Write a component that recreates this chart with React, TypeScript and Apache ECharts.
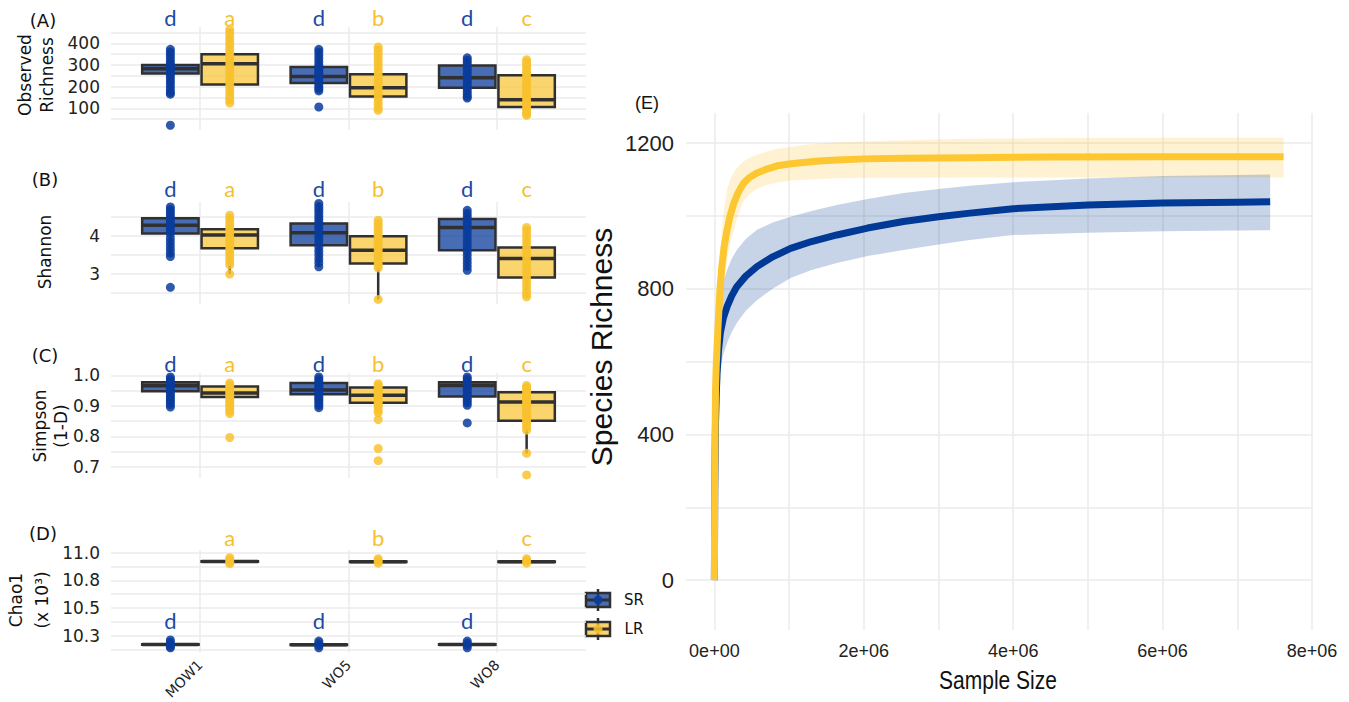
import React, { useEffect, useRef } from 'react';
import * as echarts from 'echarts';

// ---------------- DATA ----------------
const sites = ['MOW1', 'WO5', 'WO8'];

// Box stats per site: [lowerWhisker, q1, median, q3, upperWhisker]
const richnessBoxSR = [[165, 260, 282, 300, 372], [180, 217, 247, 290, 372], [147, 195, 241, 298, 333]];
const richnessBoxLR = [[124, 210, 306, 349, 464], [91, 155, 195, 257, 383], [68, 106, 140, 252, 324]];
const richnessPtsSR = [
  [372, 360, 348, 335, 322, 310, 300, 292, 285, 278, 270, 262, 250, 238, 225, 212, 198, 185, 172, 165, 22],
  [372, 360, 345, 330, 315, 300, 290, 280, 270, 262, 255, 245, 235, 225, 212, 200, 190, 180, 106],
  [333, 322, 310, 298, 286, 274, 262, 250, 238, 226, 214, 202, 190, 178, 166, 155, 147],
];
const richnessPtsLR = [
  [464, 450, 435, 420, 405, 390, 375, 360, 345, 330, 315, 300, 285, 270, 255, 240, 225, 210, 195, 180, 165, 150, 137, 124],
  [383, 370, 355, 340, 325, 310, 295, 280, 265, 250, 235, 220, 205, 190, 175, 160, 145, 130, 115, 100, 91],
  [324, 312, 300, 288, 276, 264, 252, 240, 228, 216, 204, 192, 180, 168, 156, 144, 132, 120, 108, 96, 84, 74, 68],
];

const shannonBoxSR = [[3.46, 4.07, 4.29, 4.47, 4.77], [3.19, 3.76, 4.09, 4.33, 4.86], [3.1, 3.63, 4.23, 4.45, 4.68]];
const shannonBoxLR = [[3.0, 3.68, 4.03, 4.18, 4.55], [2.33, 3.28, 3.63, 4.0, 4.42], [2.4, 2.91, 3.41, 3.7, 4.23]];
const shannonPtsSR = [
  [4.77, 4.7, 4.63, 4.56, 4.49, 4.42, 4.35, 4.28, 4.21, 4.14, 4.07, 3.95, 3.85, 3.75, 3.65, 3.55, 3.46, 2.65],
  [4.86, 4.78, 4.7, 4.62, 4.54, 4.46, 4.38, 4.3, 4.22, 4.14, 4.06, 3.98, 3.9, 3.8, 3.7, 3.6, 3.5, 3.4, 3.3, 3.19],
  [4.68, 4.6, 4.52, 4.44, 4.36, 4.28, 4.2, 4.1, 4.0, 3.9, 3.8, 3.7, 3.6, 3.5, 3.4, 3.3, 3.2, 3.1],
];
const shannonPtsLR = [
  [4.55, 4.47, 4.39, 4.31, 4.23, 4.15, 4.07, 3.99, 3.91, 3.83, 3.75, 3.67, 3.59, 3.5, 3.42, 3.33, 3.24, 3.0],
  [4.42, 4.34, 4.26, 4.18, 4.1, 4.02, 3.94, 3.86, 3.78, 3.7, 3.62, 3.54, 3.46, 3.38, 3.3, 3.23, 3.16, 2.33],
  [4.23, 4.15, 4.05, 3.95, 3.85, 3.75, 3.65, 3.55, 3.45, 3.35, 3.25, 3.15, 3.05, 2.95, 2.85, 2.75, 2.65, 2.55, 2.47, 2.4],
];

const simpsonBoxSR = [[0.896, 0.948, 0.966, 0.978, 0.995], [0.894, 0.938, 0.952, 0.975, 0.995], [0.902, 0.931, 0.967, 0.978, 0.995]];
const simpsonBoxLR = [[0.875, 0.929, 0.942, 0.964, 0.975], [0.886, 0.91, 0.935, 0.96, 0.973], [0.744, 0.851, 0.913, 0.945, 0.967]];
const simpsonPtsSR = [
  [0.995, 0.988, 0.981, 0.974, 0.967, 0.96, 0.953, 0.946, 0.939, 0.932, 0.925, 0.918, 0.911, 0.904, 0.896],
  [0.995, 0.988, 0.981, 0.974, 0.967, 0.96, 0.953, 0.946, 0.939, 0.932, 0.925, 0.918, 0.91, 0.902, 0.894],
  [0.995, 0.988, 0.981, 0.974, 0.967, 0.96, 0.953, 0.946, 0.939, 0.932, 0.925, 0.918, 0.91, 0.902, 0.844],
];
const simpsonPtsLR = [
  [0.975, 0.968, 0.961, 0.954, 0.947, 0.94, 0.933, 0.926, 0.919, 0.912, 0.905, 0.898, 0.89, 0.882, 0.875, 0.796],
  [0.973, 0.966, 0.959, 0.952, 0.945, 0.938, 0.931, 0.924, 0.917, 0.91, 0.903, 0.896, 0.886, 0.877, 0.855, 0.76, 0.72],
  [0.967, 0.96, 0.953, 0.946, 0.939, 0.932, 0.925, 0.918, 0.911, 0.904, 0.897, 0.89, 0.883, 0.876, 0.869, 0.862, 0.855, 0.848, 0.84, 0.83, 0.82, 0.744, 0.673],
];

const chaoBoxSR = [[10.165, 10.168, 10.17, 10.172, 10.175], [10.163, 10.166, 10.168, 10.17, 10.173], [10.164, 10.167, 10.169, 10.171, 10.174]];
const chaoBoxLR = [[10.915, 10.918, 10.92, 10.922, 10.925], [10.912, 10.915, 10.917, 10.919, 10.922], [10.913, 10.916, 10.918, 10.92, 10.923]];
const chaoPtsSR = [
  [10.21, 10.19, 10.17, 10.15, 10.14],
  [10.2, 10.18, 10.16, 10.14],
  [10.2, 10.18, 10.16, 10.14],
];
const chaoPtsLR = [
  [10.955, 10.935, 10.915, 10.9],
  [10.945, 10.925, 10.905],
  [10.945, 10.925, 10.905],
];

const lettersSR = ['d', 'd', 'd'];
const lettersLR = ['a', 'b', 'c'];

// Rarefaction curves (panel E)
const lrX = [0, 5000, 15000, 25000, 36000, 47000, 58000, 75000, 100000, 130000, 170000, 210000, 260000, 320000, 390000, 470000, 570000, 700000, 840000, 1000000, 1190000, 1400000, 1640000, 2000000, 2530000, 3420000, 4500000, 6000000, 7620000];
const lrY = [0, 300, 520, 590, 641, 690, 733, 800, 861, 915, 962, 1000, 1035, 1065, 1090, 1106, 1118, 1129, 1138, 1143, 1147, 1151, 1154, 1157, 1159, 1160, 1162, 1163, 1163];
const lrUpper = [0, 340, 580, 660, 720, 775, 820, 890, 960, 1020, 1072, 1100, 1120, 1137, 1150, 1160, 1168, 1177, 1185, 1189, 1195, 1199, 1202, 1205, 1208, 1212, 1214, 1215, 1215];
const lrLower = [0, 260, 460, 515, 560, 610, 650, 705, 760, 820, 880, 925, 960, 1005, 1040, 1060, 1075, 1085, 1092, 1097, 1100, 1102, 1104, 1105, 1105, 1106, 1106, 1106, 1106];

const srX = [0, 5000, 15000, 25000, 36000, 55000, 80000, 120000, 170000, 230000, 300000, 420000, 570000, 780000, 1020000, 1300000, 1640000, 2050000, 2530000, 3000000, 3420000, 4000000, 5000000, 6000000, 7000000, 7440000];
const srY = [0, 250, 430, 510, 568, 630, 679, 720, 751, 780, 806, 835, 861, 888, 911, 930, 948, 967, 985, 998, 1008, 1020, 1030, 1036, 1038, 1039];
const srUpper = [0, 300, 520, 610, 680, 735, 779, 820, 852, 882, 907, 937, 962, 982, 998, 1014, 1030, 1047, 1063, 1074, 1083, 1093, 1103, 1110, 1113, 1114];
const srLower = [0, 200, 340, 410, 460, 530, 580, 620, 651, 680, 706, 740, 769, 800, 830, 852, 871, 890, 907, 922, 934, 948, 954, 958, 960, 961];

// ---------------- STYLE ----------------
const DODGE = 0.2;
const BOX_HALF = 0.19;
const SR_COLOR = '#0B3C9C';
const LR_COLOR = '#F8C22F';
const SR_FILL = 'rgba(11,60,156,0.75)';
const LR_FILL = 'rgba(248,194,47,0.7)';
const SR_LETTER = '#1B4BA3';
const LR_LETTER = '#F6C031';
const BOX_STROKE = '#303030';
const GRID_COLOR = '#EBEBEB';
const LEFT_FONT = "'DejaVu Sans', sans-serif";
const E_FONT = "'Liberation Sans', Arial, sans-serif";
const TEXT_COLOR = '#222';

const panels = [
  {
    top: 27, height: 103, min: 0, max: 475,
    splits: [50, 100, 150, 200, 250, 300, 350, 400, 450], labels: [100, 200, 300, 400],
    fmt: (v: number) => String(v),
    boxSR: richnessBoxSR, boxLR: richnessBoxLR, ptsSR: richnessPtsSR, ptsLR: richnessPtsLR,
    letterYSR: 520, letterYLR: 520,
  },
  {
    top: 202, height: 102, min: 2.21, max: 4.9,
    splits: [2.5, 3, 3.5, 4, 4.5], labels: [3, 4],
    fmt: (v: number) => String(v),
    boxSR: shannonBoxSR, boxLR: shannonBoxLR, ptsSR: shannonPtsSR, ptsLR: shannonPtsLR,
    letterYSR: 5.26, letterYLR: 5.26,
  },
  {
    top: 373, height: 105, min: 0.663, max: 1.008,
    splits: [0.7, 0.75, 0.8, 0.85, 0.9, 0.95, 1.0], labels: [0.7, 0.8, 0.9, 1.0],
    fmt: (v: number) => v.toFixed(1),
    boxSR: simpsonBoxSR, boxLR: simpsonBoxLR, ptsSR: simpsonPtsSR, ptsLR: simpsonPtsLR,
    letterYSR: 1.038, letterYLR: 1.038,
  },
  {
    top: 550, height: 103, min: 10.097, max: 11.024,
    splits: [10.125, 10.25, 10.375, 10.5, 10.625, 10.75, 10.875, 11.0], labels: [10.25, 10.5, 10.75, 11.0],
    fmt: (v: number) => v.toFixed(1),
    boxSR: chaoBoxSR, boxLR: chaoBoxLR, ptsSR: chaoPtsSR, ptsLR: chaoPtsLR,
    letterYSR: 10.39, letterYLR: 11.14,
  },
];

function makeBoxRender(fill: string) {
  return (params: any, api: any) => {
    const x = api.value(0);
    const lo = api.value(1), q1 = api.value(2), med = api.value(3), q3 = api.value(4), hi = api.value(5);
    const tl = api.coord([x - BOX_HALF, q3]);
    const br = api.coord([x + BOX_HALF, q1]);
    const cHi = api.coord([x, hi]);
    const cLo = api.coord([x, lo]);
    const mL = api.coord([x - BOX_HALF, med]);
    const mR = api.coord([x + BOX_HALF, med]);
    const st = { stroke: BOX_STROKE, lineWidth: 2.5 };
    return {
      type: 'group',
      children: [
        { type: 'line', shape: { x1: cHi[0], y1: cHi[1], x2: cHi[0], y2: tl[1] }, style: st },
        { type: 'line', shape: { x1: cLo[0], y1: br[1], x2: cLo[0], y2: cLo[1] }, style: st },
        {
          type: 'rect',
          shape: { x: tl[0], y: tl[1], width: br[0] - tl[0], height: Math.max(br[1] - tl[1], 0.5) },
          style: { fill, stroke: BOX_STROKE, lineWidth: 2.5 },
        },
        { type: 'line', shape: { x1: mL[0], y1: mL[1], x2: mR[0], y2: mR[1] }, style: { stroke: BOX_STROKE, lineWidth: 3.5 } },
      ],
    };
  };
}

function makeLetterRender(letters: string[], color: string) {
  return (params: any, api: any) => {
    const c = api.coord([api.value(0), api.value(1)]);
    return {
      type: 'text',
      x: c[0],
      y: c[1],
      style: {
        text: letters[params.dataIndex],
        fill: color,
        font: "22px 'Lato', 'Open Sans', sans-serif",
        align: 'center',
        verticalAlign: 'middle',
      },
    };
  };
}

function makeRibbonRender(xs: number[], lower: number[], upper: number[], fill: string) {
  return (params: any, api: any) => {
    if (params.dataIndex !== 0) return null;
    const pts: number[][] = [];
    for (let i = 0; i < xs.length; i++) pts.push(api.coord([xs[i], upper[i]]));
    for (let i = xs.length - 1; i >= 0; i--) pts.push(api.coord([xs[i], lower[i]]));
    return { type: 'polygon', shape: { points: pts }, style: { fill } };
  };
}

function buildOption() {
  const grid: any[] = [];
  const xAxis: any[] = [];
  const yAxis: any[] = [];
  const series: any[] = [];

  panels.forEach((p, i) => {
    grid.push({ left: 111, width: 475, top: p.top, height: p.height });
    xAxis.push({
      type: 'value', gridIndex: i, min: 0.4, max: 3.6,
      axisLine: { show: false },
      axisTick: { show: false, customValues: [1, 2, 3] },
      axisLabel: {
        show: i === 3,
        customValues: [1, 2, 3],
        formatter: (v: number) => sites[Math.round(v) - 1] || '',
        rotate: 45,
        margin: 10,
        fontSize: 14,
        fontFamily: LEFT_FONT,
        color: TEXT_COLOR,
      },
      splitLine: { show: true, lineStyle: { color: GRID_COLOR, width: 1.5 } },
    });
    yAxis.push({
      type: 'value', gridIndex: i, min: p.min, max: p.max,
      axisLine: { show: false },
      axisTick: { show: false, customValues: p.splits },
      axisLabel: {
        customValues: p.labels,
        formatter: p.fmt,
        fontSize: 17,
        fontFamily: LEFT_FONT,
        color: TEXT_COLOR,
        margin: 11,
      },
      splitLine: { show: true, lineStyle: { color: GRID_COLOR, width: 1.5 } },
    });

    series.push({
      type: 'custom', xAxisIndex: i, yAxisIndex: i, silent: true,
      encode: { x: 0, y: [1, 2, 3, 4, 5] },
      data: p.boxSR.map((s, k) => [k + 1 - DODGE, ...s]),
      renderItem: makeBoxRender(SR_FILL),
    });
    series.push({
      type: 'custom', xAxisIndex: i, yAxisIndex: i, silent: true,
      encode: { x: 0, y: [1, 2, 3, 4, 5] },
      data: p.boxLR.map((s, k) => [k + 1 + DODGE, ...s]),
      renderItem: makeBoxRender(LR_FILL),
    });
    const srPts: number[][] = [];
    p.ptsSR.forEach((arr, k) => arr.forEach((v) => srPts.push([k + 1 - DODGE, v])));
    const lrPts: number[][] = [];
    p.ptsLR.forEach((arr, k) => arr.forEach((v) => lrPts.push([k + 1 + DODGE, v])));
    series.push({
      type: 'scatter', xAxisIndex: i, yAxisIndex: i, silent: true, clip: false,
      symbolSize: 9, data: srPts,
      itemStyle: { color: SR_COLOR, opacity: 0.85 },
    });
    series.push({
      type: 'scatter', xAxisIndex: i, yAxisIndex: i, silent: true, clip: false,
      symbolSize: 9, data: lrPts,
      itemStyle: { color: LR_COLOR, opacity: 0.85 },
    });
    series.push({
      type: 'custom', xAxisIndex: i, yAxisIndex: i, silent: true, clip: false,
      data: sites.map((_, k) => [k + 1 - DODGE, p.letterYSR]),
      renderItem: makeLetterRender(lettersSR, SR_LETTER),
    });
    series.push({
      type: 'custom', xAxisIndex: i, yAxisIndex: i, silent: true, clip: false,
      data: sites.map((_, k) => [k + 1 + DODGE, p.letterYLR]),
      renderItem: makeLetterRender(lettersLR, LR_LETTER),
    });
  });

  // Panel E
  grid.push({ left: 686, width: 626, top: 113, height: 517 });
  xAxis.push({
    type: 'value', gridIndex: 4, min: -380000, max: 8000000,
    axisLine: { show: false },
    axisTick: { show: false, customValues: [0, 1e6, 2e6, 3e6, 4e6, 5e6, 6e6, 7e6, 8e6] },
    axisLabel: {
      customValues: [0, 2e6, 4e6, 6e6, 8e6],
      formatter: (v: number) => (v === 0 ? '0e+00' : `${Math.round(v / 1e6)}e+06`),
      fontSize: 18,
      fontFamily: E_FONT,
      color: TEXT_COLOR,
      margin: 12,
    },
    splitLine: { show: true, lineStyle: { color: GRID_COLOR, width: 1.5 } },
  });
  yAxis.push({
    type: 'value', gridIndex: 4, min: -137, max: 1283,
    axisLine: { show: false },
    axisTick: { show: false, customValues: [0, 200, 400, 600, 800, 1000, 1200] },
    axisLabel: {
      customValues: [0, 400, 800, 1200],
      formatter: (v: number) => String(v),
      fontSize: 22,
      fontFamily: E_FONT,
      color: TEXT_COLOR,
      margin: 12,
    },
    splitLine: { show: true, lineStyle: { color: GRID_COLOR, width: 1.5 } },
  });
  series.push({
    type: 'custom', xAxisIndex: 4, yAxisIndex: 4, silent: true,
    encode: { x: 0, y: [1, 2] },
    data: lrX.map((x, k) => [x, lrLower[k], lrUpper[k]]),
    renderItem: makeRibbonRender(lrX, lrLower, lrUpper, 'rgba(250,198,48,0.22)'),
  });
  series.push({
    type: 'custom', xAxisIndex: 4, yAxisIndex: 4, silent: true,
    encode: { x: 0, y: [1, 2] },
    data: srX.map((x, k) => [x, srLower[k], srUpper[k]]),
    renderItem: makeRibbonRender(srX, srLower, srUpper, 'rgba(0,58,150,0.22)'),
  });
  series.push({
    type: 'line', xAxisIndex: 4, yAxisIndex: 4, silent: true, showSymbol: false,
    data: srX.map((x, k) => [x, srY[k]]),
    lineStyle: { color: '#003A96', width: 7, join: 'round' },
  });
  series.push({
    type: 'line', xAxisIndex: 4, yAxisIndex: 4, silent: true, showSymbol: false,
    data: lrX.map((x, k) => [x, lrY[k]]),
    lineStyle: { color: '#FCC730', width: 7, join: 'round' },
  });

  const leftText = (text: string, x: number, y: number, size: number, rot = 0, lh?: number) => ({
    type: 'text', x, y, rotation: rot, silent: true,
    style: {
      text, fill: '#111', font: `${size}px ${LEFT_FONT}`, align: 'center', verticalAlign: 'middle',
      lineHeight: lh || size * 1.2,
    },
  });

  const legendKey = (cy: number, fill: string, dot: string) => ({
    type: 'group', silent: true,
    children: [
      { type: 'line', shape: { x1: 598, y1: cy - 11, x2: 598, y2: cy + 11 }, style: { stroke: BOX_STROKE, lineWidth: 2.5 } },
      { type: 'rect', shape: { x: 586, y: cy - 7, width: 24, height: 14 }, style: { fill, stroke: BOX_STROKE, lineWidth: 2.5 } },
      { type: 'line', shape: { x1: 586, y1: cy, x2: 610, y2: cy }, style: { stroke: BOX_STROKE, lineWidth: 3 } },
      { type: 'circle', shape: { cx: 598, cy, r: 4.5 }, style: { fill: dot, opacity: 0.85 } },
    ],
  });

  const graphic: any[] = [
    leftText('(A)', 43, 20, 18),
    leftText('(B)', 45, 179, 18),
    leftText('(C)', 45, 355, 18),
    leftText('(D)', 43, 533, 18),
    leftText('Observed\nRichness', 36, 75, 17, Math.PI / 2, 22),
    leftText('Shannon', 45, 252, 17, Math.PI / 2),
    leftText('Simpson\n(1-D)', 50, 426, 17, Math.PI / 2, 21),
    leftText('Chao1\n(x 10³)', 29, 600, 17, Math.PI / 2, 26),
    legendKey(600, SR_FILL, SR_COLOR),
    legendKey(629, LR_FILL, LR_COLOR),
    leftText('SR', 634, 600, 15),
    leftText('LR', 634, 629, 15),
    {
      type: 'text', x: 647, y: 103, silent: true,
      style: { text: '(E)', fill: '#111', font: `18px ${E_FONT}`, align: 'center', verticalAlign: 'middle' },
    },
    {
      type: 'text', x: 601, y: 347, rotation: Math.PI / 2, silent: true,
      style: { text: 'Species Richness', fill: '#111', font: `30px ${E_FONT}`, align: 'center', verticalAlign: 'middle' },
    },
    {
      type: 'text', x: 998, y: 680, scaleX: 0.84, silent: true,
      style: { text: 'Sample Size', fill: '#111', font: `25px ${E_FONT}`, align: 'center', verticalAlign: 'middle' },
    },
  ];

  return {
    animation: false,
    backgroundColor: '#ffffff',
    grid,
    xAxis,
    yAxis,
    series,
    graphic,
  };
}

export default function App() {
  const ref = useRef<HTMLDivElement>(null);
  useEffect(() => {
    document.body.style.margin = '0';
    if (!ref.current) return;
    const chart = echarts.init(ref.current, undefined, { renderer: 'svg' });
    chart.setOption(buildOption() as any);
    return () => {
      chart.dispose();
    };
  }, []);
  return <div ref={ref} style={{ width: 1349, height: 702 }} />;
}
